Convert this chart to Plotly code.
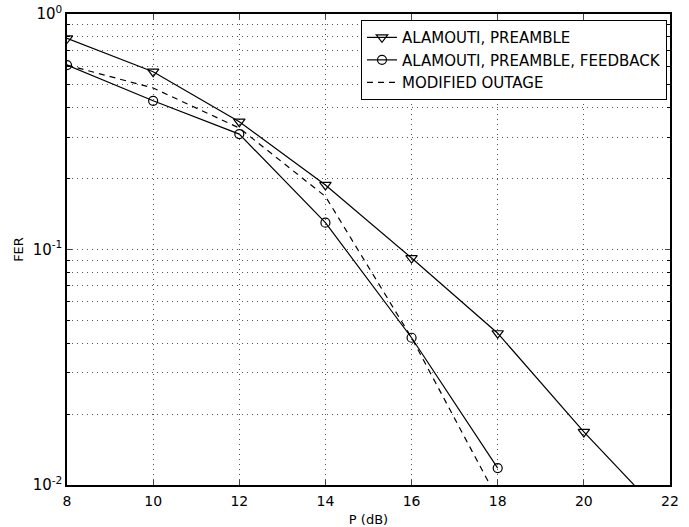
import plotly.graph_objects as go

p_tri = [8, 10, 12, 14, 16, 18, 20, 22]
fer_tri = [0.788, 0.569, 0.349, 0.188, 0.092, 0.0441, 0.0168, 0.0069]

p_circ = [8, 10, 12, 14, 16, 18]
fer_circ = [0.607, 0.428, 0.309, 0.130, 0.0422, 0.0118]

p_out = [8, 10, 12, 14, 16, 18]
fer_out = [0.607, 0.485, 0.328, 0.168, 0.0422, 0.0087]

x_ticks = [8, 10, 12, 14, 16, 18, 20, 22]
y_ticks = [0.01, 0.1, 1]
y_ticktext = ["10<sup>-2</sup>", "10<sup>-1</sup>", "10<sup>0</sup>"]
y_minor = [m * 10 ** e for e in (-2, -1) for m in range(2, 10)]

font = "DejaVu Sans, Arial, Helvetica, sans-serif"
grid_dash = "1px,4px"
grid_color = "#555555"

fig = go.Figure()
fig.add_trace(go.Scatter(
    x=p_tri, y=fer_tri, mode="lines+markers", name="ALAMOUTI, PREAMBLE",
    line=dict(color="black", width=1.2),
    marker=dict(symbol="triangle-down-open", size=10, color="black", line=dict(width=1.2))))
fig.add_trace(go.Scatter(
    x=p_circ, y=fer_circ, mode="lines+markers", name="ALAMOUTI, PREAMBLE, FEEDBACK",
    line=dict(color="black", width=1.2),
    marker=dict(symbol="circle-open", size=9, color="black", line=dict(width=1.2))))
fig.add_trace(go.Scatter(
    x=p_out, y=fer_out, mode="lines", name="MODIFIED OUTAGE",
    line=dict(color="black", width=1.2, dash="6px,5px")))

fig.update_layout(
    width=689, height=527,
    margin=dict(l=67, r=19, t=14, b=42),
    paper_bgcolor="white", plot_bgcolor="white",
    font=dict(family=font, size=14, color="black"),
    showlegend=True,
    legend=dict(x=0.995, y=0.987, xanchor="right", yanchor="top",
                bgcolor="white", bordercolor="black", borderwidth=1,
                font=dict(size=15), tracegroupgap=0, itemwidth=30),
    xaxis=dict(
        range=[8, 22], tickvals=x_ticks, ticks="inside", ticklen=5,
        showline=True, linecolor="black", linewidth=1.5, mirror="ticks",
        showgrid=True, gridcolor=grid_color, gridwidth=1, griddash=grid_dash,
        zeroline=False, automargin=False, tickfont=dict(size=14),
        ticklabelstandoff=2, ticklabeloverflow="allow",
        title=dict(text="P (dB)", standoff=8, font=dict(size=13, color="black"))),
    yaxis=dict(
        type="log", range=[-2, 0], tickvals=y_ticks, ticktext=y_ticktext,
        ticks="inside", ticklen=5, automargin=False, tickfont=dict(size=15),
        ticklabeloverflow="allow",
        showline=True, linecolor="black", linewidth=1.5, mirror="ticks",
        showgrid=True, gridcolor=grid_color, gridwidth=1, griddash=grid_dash,
        zeroline=False,
        minor=dict(tickvals=y_minor, ticks="inside", ticklen=3, tickcolor="black",
                   showgrid=True, gridcolor=grid_color, gridwidth=1, griddash=grid_dash),
        title=dict(text="FER", standoff=6, font=dict(size=13, color="black"))),
)

fig.write_html("out.html",
               config={"displayModeBar": False},
               post_script="document.body.style.margin='0';document.body.style.overflow='hidden';")
